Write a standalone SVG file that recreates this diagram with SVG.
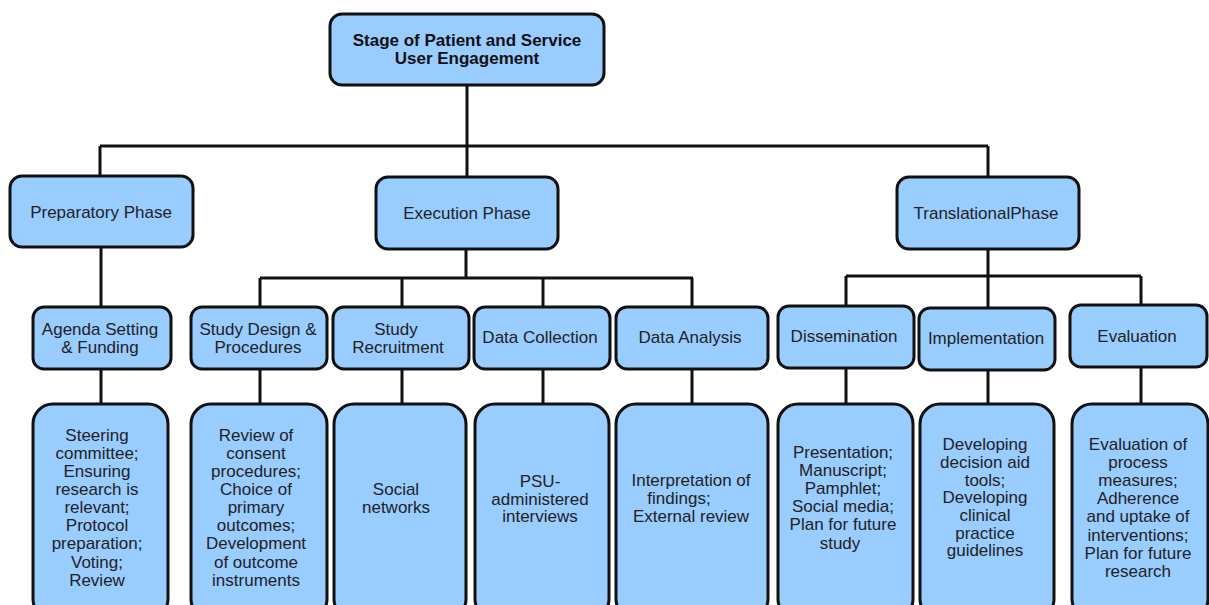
<svg xmlns="http://www.w3.org/2000/svg" width="1209" height="605" viewBox="0 0 1209 605">
<style>
.box{fill:#99ccff;stroke:#111;stroke-width:3}
.ln{stroke:#111;stroke-width:3;fill:none}
text{font-family:"Liberation Sans",Arial,sans-serif;font-size:17px;fill:#222;text-anchor:middle}
.b{font-weight:bold;fill:#111}
</style>
<rect width="1209" height="605" fill="#fff"/>
<g id="connectors">
<path class="ln" d="M467 85V146M100 146H988M100 146V176M467 146V177M988 146V177"/>
<path class="ln" d="M101 247V307"/>
<path class="ln" d="M466 249V278M260 278H693M260 278V307M402 278V307M543 278V307M692 278V307"/>
<path class="ln" d="M988 249V276M846 276H1141M846 276V306M988 276V308M1141 276V305"/>
<path class="ln" d="M101 369V404M260 369V404M402 369V404M543 369V404M692 369V404M846 368V404M988 370V404M1141 367V404"/>
</g>
<g id="root"><rect class="box" x="330" y="14" width="274" height="71" rx="12"/><text class="b" x="467" y="46">Stage of Patient and Service</text><text class="b" x="467" y="64">User Engagement</text></g>
<g id="preparatory"><rect class="box" x="10" y="176" width="183" height="71" rx="12"/><text x="101" y="218">Preparatory Phase</text></g>
<g id="execution"><rect class="box" x="376" y="177" width="182" height="72" rx="12"/><text x="467" y="219">Execution Phase</text></g>
<g id="translational"><rect class="box" x="897" y="177" width="182" height="72" rx="12"/><text x="986" y="219">TranslationalPhase</text></g>
<g id="agenda"><rect class="box" x="33" y="307" width="138" height="62" rx="11"/><text x="100" y="335">Agenda Setting</text><text x="100" y="353">&amp; Funding</text></g>
<g id="design"><rect class="box" x="191" y="307" width="136" height="62" rx="11"/><text x="258" y="335">Study Design &amp;</text><text x="258" y="353">Procedures</text></g>
<g id="recruitment"><rect class="box" x="333" y="307" width="136" height="62" rx="11"/><text x="396" y="335">Study</text><text x="398" y="353">Recruitment</text></g>
<g id="collection"><rect class="box" x="474" y="307" width="136" height="62" rx="11"/><text x="540" y="343">Data Collection</text></g>
<g id="analysis"><rect class="box" x="616" y="307" width="152" height="62" rx="11"/><text x="690" y="343">Data Analysis</text></g>
<g id="dissemination"><rect class="box" x="778" y="306" width="136" height="62" rx="11"/><text x="844" y="342">Dissemination</text></g>
<g id="implementation"><rect class="box" x="919" y="308" width="136" height="62" rx="11"/><text x="986" y="344">Implementation</text></g>
<g id="evaluation"><rect class="box" x="1070" y="305" width="137" height="62" rx="11"/><text x="1137" y="342">Evaluation</text></g>
<g id="d-agenda"><rect class="box" x="33" y="404" width="135" height="215" rx="20"/>
<text x="97" y="441">Steering</text><text x="97" y="459">committee;</text><text x="97" y="477">Ensuring</text><text x="97" y="495">research is</text><text x="97" y="513">relevant;</text><text x="97" y="531">Protocol</text><text x="97" y="549">preparation;</text><text x="97" y="568">Voting;</text><text x="97" y="586">Review</text></g>
<g id="d-design"><rect class="box" x="191" y="404" width="136" height="215" rx="20"/>
<text x="256" y="441">Review of</text><text x="256" y="459">consent</text><text x="256" y="477">procedures;</text><text x="256" y="495">Choice of</text><text x="256" y="513">primary</text><text x="256" y="531">outcomes;</text><text x="256" y="549">Development</text><text x="256" y="568">of outcome</text><text x="256" y="586">instruments</text></g>
<g id="d-recruitment"><rect class="box" x="334" y="404" width="132" height="215" rx="20"/>
<text x="396" y="495">Social</text><text x="396" y="513">networks</text></g>
<g id="d-collection"><rect class="box" x="475" y="404" width="134" height="215" rx="20"/>
<text x="540" y="487">PSU-</text><text x="540" y="505">administered</text><text x="540" y="522">interviews</text></g>
<g id="d-analysis"><rect class="box" x="616" y="404" width="152" height="215" rx="20"/>
<text x="691" y="486">Interpretation of</text><text x="679" y="504">findings;</text><text x="691" y="522">External review</text></g>
<g id="d-dissemination"><rect class="box" x="778" y="404" width="135" height="215" rx="20"/>
<text x="843" y="458">Presentation;</text><text x="843" y="476">Manuscript;</text><text x="843" y="494">Pamphlet;</text><text x="843" y="512">Social media;</text><text x="843" y="530">Plan for future</text><text x="840" y="549">study</text></g>
<g id="d-implementation"><rect class="box" x="920" y="404" width="134" height="215" rx="20"/>
<text x="985" y="450">Developing</text><text x="985" y="468">decision aid</text><text x="985" y="486">tools;</text><text x="985" y="503">Developing</text><text x="985" y="521">clinical</text><text x="985" y="539">practice</text><text x="985" y="556">guidelines</text></g>
<g id="d-evaluation"><rect class="box" x="1072" y="404" width="136" height="215" rx="20"/>
<text x="1138" y="450">Evaluation of</text><text x="1138" y="468">process</text><text x="1138" y="486">measures;</text><text x="1138" y="504">Adherence</text><text x="1138" y="522">and uptake of</text><text x="1138" y="541">interventions;</text><text x="1138" y="559">Plan for future</text><text x="1138" y="577">research</text></g>
</svg>
